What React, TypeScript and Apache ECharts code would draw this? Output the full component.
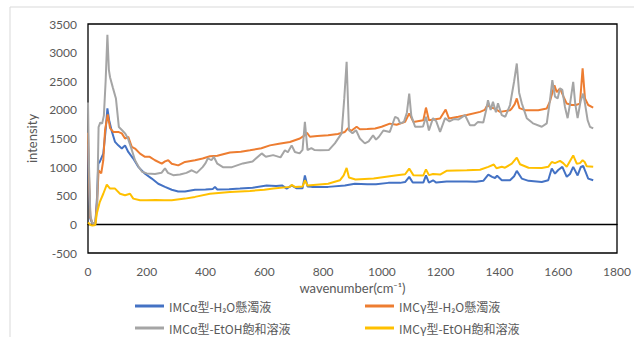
import React, { useEffect, useRef } from "react";
import * as echarts from "echarts";

const seriesNames = [
  "IMCα型-H₂O懸濁液",
  "IMCγ型-H₂O懸濁液",
  "IMCα型-EtOH飽和溶液",
  "IMCγ型-EtOH飽和溶液",
];
const seriesColors = ["#4472C4", "#ED7D31", "#A5A5A5", "#FFC000"];

const yTicks = { min: -500, max: 3500, interval: 500 };
const xTicks = { min: 0, max: 1800, interval: 200 };

const alphaH2O: [number, number][] = [
  [0, 1400], [3, 700], [8, 100], [15, 10], [25, 10], [31, 500], [35, 1060], [40, 1090], [52, 1235], [60, 1645],
  [66, 2025], [72, 1820], [80, 1645], [92, 1440], [103, 1380], [115, 1325], [126, 1380], [137, 1265], [154, 1150],
  [171, 1005], [194, 885], [217, 800], [239, 710], [262, 655], [285, 605], [307, 575], [330, 575], [364, 605],
  [400, 610], [425, 620], [432, 655], [440, 610], [480, 615], [517, 625], [560, 640], [608, 680], [640, 670],
  [660, 680], [676, 625], [693, 680], [710, 630], [730, 630], [738, 855], [747, 660], [761, 655], [817, 655],
  [874, 680], [908, 710], [950, 700], [980, 700], [1022, 725], [1062, 725], [1079, 740], [1093, 830], [1105, 730],
  [1141, 730], [1150, 855], [1160, 730], [1174, 770], [1185, 730], [1220, 750], [1289, 750], [1320, 745],
  [1345, 760], [1362, 870], [1375, 830], [1385, 810], [1392, 850], [1408, 770], [1436, 770], [1450, 840],
  [1459, 935], [1476, 800], [1499, 760], [1544, 740], [1566, 770], [1578, 975], [1589, 885], [1600, 950],
  [1614, 1005], [1629, 830], [1640, 880], [1651, 1005], [1666, 855], [1677, 1005], [1685, 1020], [1693, 915],
  [1702, 800], [1719, 770],
];

const gammaH2O: [number, number][] = [
  [0, 1600], [3, 900], [8, 120], [15, 20], [25, 20], [31, 400], [36, 945], [45, 890], [52, 1120], [58, 1645],
  [67, 1920], [75, 1680], [86, 1615], [103, 1615], [115, 1590], [126, 1500], [137, 1530], [149, 1355], [160, 1325],
  [177, 1235], [194, 1180], [210, 1180], [228, 1120], [251, 1060], [262, 1100], [273, 1120], [285, 1060],
  [307, 1030], [330, 1090], [364, 1120], [390, 1150], [415, 1190], [440, 1200], [483, 1255], [520, 1270],
  [551, 1295], [590, 1330], [619, 1380], [650, 1410], [687, 1440], [721, 1500], [738, 1560], [745, 1600],
  [755, 1530], [780, 1545], [817, 1555], [850, 1580], [874, 1615], [885, 1680], [895, 1630], [914, 1705],
  [925, 1660], [950, 1665], [977, 1675], [999, 1705], [1027, 1760], [1050, 1740], [1079, 1790], [1093, 1940],
  [1107, 1790], [1141, 1820], [1150, 2040], [1160, 1820], [1198, 1850], [1217, 2005], [1228, 1850], [1260, 1880],
  [1289, 1910], [1334, 1965], [1350, 2000], [1359, 2085], [1368, 2050], [1385, 2020], [1402, 1965], [1436, 1995],
  [1442, 2025], [1452, 2100], [1459, 2200], [1468, 2030], [1487, 1995], [1532, 1995], [1561, 2025], [1572, 2150],
  [1587, 2430], [1595, 2310], [1606, 2375], [1618, 2230], [1629, 2110], [1646, 2085], [1660, 2085], [1674, 2110],
  [1683, 2725], [1691, 2200], [1702, 2085], [1719, 2040],
];

const alphaEtOH: [number, number][] = [
  [0, 2130], [3, 1100], [8, 150], [15, 20], [25, 20], [31, 300], [36, 1700], [42, 1780], [48, 1760], [54, 1900],
  [60, 2500], [66, 3310], [71, 2700], [75, 2570], [85, 2380], [95, 2200], [105, 1700], [116, 1645], [126, 1590],
  [136, 1500], [146, 1350], [160, 1120], [173, 1000], [184, 920], [200, 890], [228, 880], [250, 900], [262, 980],
  [272, 900], [290, 860], [313, 870], [335, 900], [353, 945], [370, 900], [390, 1000], [400, 1070], [408, 1155],
  [420, 1120], [428, 1180], [440, 1060], [459, 1000], [490, 1000], [527, 1065], [560, 1100], [591, 1240],
  [605, 1180], [630, 1210], [655, 1170], [670, 1295], [680, 1260], [693, 1380], [704, 1265], [720, 1240],
  [730, 1300], [738, 1790], [747, 1295], [760, 1330], [770, 1300], [790, 1295], [820, 1300], [840, 1415],
  [863, 1590], [872, 2200], [880, 2840], [888, 1645], [900, 1590], [912, 1645], [925, 1500], [942, 1415],
  [955, 1450], [970, 1555], [980, 1480], [990, 1530], [1005, 1640], [1027, 1615], [1045, 1880], [1055, 1850],
  [1062, 1765], [1075, 1790], [1085, 1950], [1093, 2285], [1100, 1900], [1113, 1705], [1130, 1705], [1140, 1710],
  [1150, 1880], [1160, 1640], [1174, 1855], [1185, 1800], [1198, 1615], [1215, 1855], [1230, 1800], [1245, 1840],
  [1260, 1830], [1283, 1907], [1300, 1730], [1315, 1730], [1327, 1790], [1345, 1780], [1355, 2000], [1361, 2170],
  [1370, 2000], [1378, 2140], [1388, 1960], [1395, 2115], [1408, 1907], [1420, 1880], [1436, 2085], [1450, 2500],
  [1459, 2810], [1467, 2300], [1476, 2115], [1493, 1855], [1514, 1765], [1544, 1705], [1561, 1765], [1572, 2170],
  [1580, 2520], [1589, 2230], [1598, 2200], [1606, 2375], [1614, 2350], [1623, 2050], [1632, 1855], [1640, 2100],
  [1651, 2490], [1658, 2100], [1666, 1855], [1676, 2150], [1685, 2285], [1691, 2115], [1700, 1820], [1708, 1705],
  [1719, 1675],
];

const gammaEtOH: [number, number][] = [
  [0, 30], [3, 20], [8, -10], [15, -20], [25, -10], [30, 190], [40, 390], [52, 535], [64, 695], [75, 625],
  [92, 625], [109, 535], [126, 510], [143, 535], [154, 450], [177, 420], [200, 420], [230, 425], [260, 420],
  [285, 420], [330, 450], [364, 480], [415, 535], [483, 565], [551, 585], [600, 605], [631, 625], [687, 655],
  [693, 690], [704, 655], [730, 660], [738, 770], [747, 680], [817, 710], [857, 770], [870, 855], [880, 985],
  [888, 820], [910, 785], [972, 800], [1045, 855], [1079, 875], [1093, 975], [1107, 860], [1141, 855], [1150, 960],
  [1160, 860], [1174, 880], [1198, 870], [1220, 935], [1289, 945], [1334, 955], [1362, 1005], [1381, 1045],
  [1390, 980], [1408, 1005], [1419, 990], [1442, 1060], [1459, 1165], [1470, 1050], [1499, 990], [1544, 985],
  [1566, 1005], [1578, 1090], [1589, 1070], [1606, 1110], [1617, 1070], [1629, 1005], [1651, 1205], [1663, 1060],
  [1674, 1070], [1683, 1120], [1690, 1090], [1697, 1015], [1719, 1005],
];

const seriesData = [alphaH2O, gammaH2O, alphaEtOH, gammaEtOH];

const labelFont = "Lato, 'Noto Sans CJK JP', sans-serif";
const cjkFont = "'Noto Sans CJK JP', Lato, sans-serif";
const textGray = "#595959";

export default function App() {
  const ref = useRef<HTMLDivElement>(null);
  useEffect(() => {
    if (!ref.current) return;
    const chart = echarts.init(ref.current, undefined, { renderer: "svg" });
    const legendText = { color: textGray, fontSize: 12, fontFamily: cjkFont };
    const legendBase = {
      orient: "vertical",
      top: 300,
      height: 60,
      padding: 0,
      itemGap: 10,
      itemWidth: 29,
      itemHeight: 3,
      icon: "rect",
      textStyle: legendText,
    };
    chart.setOption({
      animation: false,
      backgroundColor: "#fff",
      graphic: [
        {
          type: "rect",
          shape: { x: 10, y: 7, width: 640, height: 350 },
          style: { fill: "none", stroke: "#d9d9d9", lineWidth: 1 },
          silent: true,
          z: -10,
        },
      ],
      grid: {
        left: 88,
        top: 24,
        right: 17,
        bottom: 84,
        show: true,
        borderColor: "#000",
        borderWidth: 1.3,
      },
      legend: [
        { ...legendBase, data: [seriesNames[0], seriesNames[2]], left: 135 },
        { ...legendBase, data: [seriesNames[1], seriesNames[3]], left: 365 },
      ],
      xAxis: {
        type: "value",
        min: xTicks.min,
        max: xTicks.max,
        interval: xTicks.interval,
        name: "wavenumber(cm⁻¹)",
        nameLocation: "middle",
        nameGap: 6,
        nameTextStyle: { color: textGray, fontSize: 13, fontFamily: labelFont },
        axisLine: { onZero: true, lineStyle: { color: "#000", width: 1.3 } },
        axisTick: { show: false },
        axisLabel: {
          color: textGray,
          fontSize: 12,
          fontFamily: labelFont,
          margin: 12,
          formatter: (v: number) => String(v),
        },
        splitLine: { show: false },
      },
      yAxis: {
        type: "value",
        min: yTicks.min,
        max: yTicks.max,
        interval: yTicks.interval,
        name: "intensity",
        nameLocation: "middle",
        nameGap: 40,
        nameTextStyle: { color: textGray, fontSize: 13, fontFamily: labelFont },
        axisLine: { show: false },
        axisTick: { show: false },
        axisLabel: {
          color: textGray,
          fontSize: 12,
          fontFamily: labelFont,
          margin: 11,
          formatter: (v: number) => String(v),
        },
        splitLine: { show: false },
      },
      series: seriesData.map((d, i) => ({
        name: seriesNames[i],
        type: "line",
        data: d,
        symbol: "none",
        showSymbol: false,
        lineStyle: { color: seriesColors[i], width: 2 },
        itemStyle: { color: seriesColors[i] },
      })),
    });
    return () => chart.dispose();
  }, []);
  return (
    <div
      ref={ref}
      style={{ position: "absolute", left: 0, top: 0, width: 634, height: 337 }}
    />
  );
}
